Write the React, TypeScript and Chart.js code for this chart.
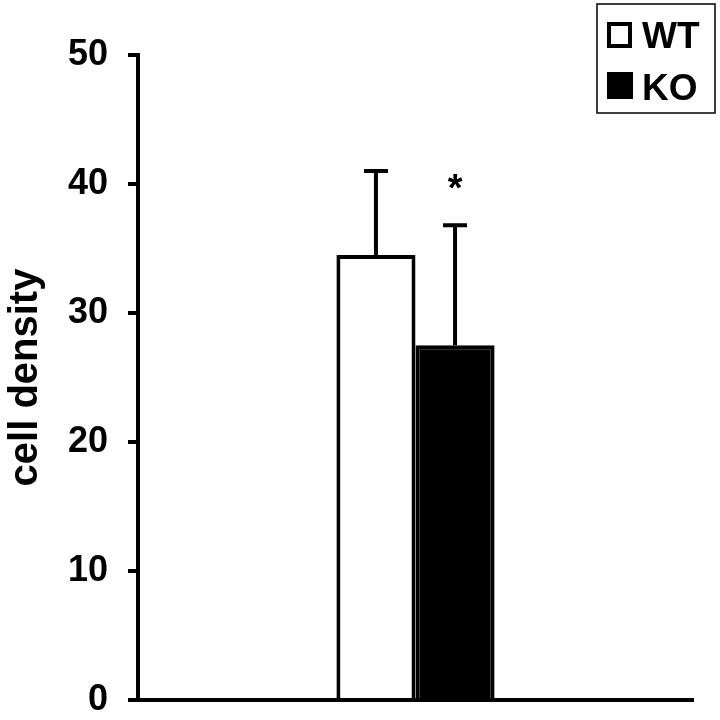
import React, { useEffect, useRef } from "react";
import { Chart, registerables } from "chart.js";

Chart.register(...registerables);

const categories = [""];
const seriesNames = ["WT", "KO"];
const meanValues = [34.5, 27.5];
const errorValues = [6.5, 9.3];
const significance = ["", "*"];
const yTicks = [0, 10, 20, 30, 40, 50];
const yTitle = "cell density";

const FONT = "'Liberation Sans', Arial, Helvetica, sans-serif";

const errorBarPlugin = {
  id: "errorBars",
  afterDatasetsDraw(chart: any) {
    const ctx = chart.ctx;
    const y = chart.scales.y;
    ctx.save();
    chart.data.datasets.forEach((ds: any, i: number) => {
      const meta = chart.getDatasetMeta(i);
      meta.data.forEach((el: any, j: number) => {
        const v = ds.data[j];
        const e = errorValues[i];
        const yTop = y.getPixelForValue(v + e);
        const yBase = y.getPixelForValue(v);
        ctx.strokeStyle = "#000";
        ctx.lineWidth = 4;
        ctx.beginPath();
        ctx.moveTo(el.x, yBase);
        ctx.lineTo(el.x, yTop);
        ctx.moveTo(el.x - 12, yTop);
        ctx.lineTo(el.x + 12, yTop);
        ctx.stroke();
        if (significance[i]) {
          ctx.fillStyle = "#000";
          ctx.font = `bold 38px ${FONT}`;
          ctx.textAlign = "center";
          ctx.textBaseline = "alphabetic";
          ctx.fillText(significance[i], el.x, yTop - 24);
        }
      });
    });
    ctx.restore();
  },
};

const legendPlugin = {
  id: "boxLegend",
  afterDraw(chart: any) {
    const ctx = chart.ctx;
    ctx.save();
    ctx.strokeStyle = "#000";
    ctx.lineWidth = 1.5;
    ctx.strokeRect(597, 4, 118, 109);
    ctx.font = `bold 37px ${FONT}`;
    ctx.textAlign = "left";
    ctx.textBaseline = "alphabetic";
    ctx.fillStyle = "#000";
    ctx.lineWidth = 4;
    ctx.strokeRect(609, 24, 21, 22);
    ctx.fillText(seriesNames[0], 642, 48);
    ctx.fillRect(607, 72, 26, 27);
    ctx.fillText(seriesNames[1], 642, 100);
    ctx.restore();
  },
};

export default function App() {
  const ref = useRef<HTMLCanvasElement>(null);
  useEffect(() => {
    if (!ref.current) return;
    const chart = new Chart(ref.current, {
      type: "bar",
      data: {
        labels: categories,
        datasets: [
          {
            label: seriesNames[0],
            data: [meanValues[0]],
            backgroundColor: "#ffffff",
            borderColor: "#000000",
            borderWidth: 4,
          },
          {
            label: seriesNames[1],
            data: [meanValues[1]],
            backgroundColor: "#000000",
            borderColor: "#000000",
            borderWidth: 4,
          },
        ],
      },
      plugins: [errorBarPlugin, legendPlugin],
      options: {
        responsive: false,
        animation: false,
        layout: { padding: { left: 0, top: 55, right: 27, bottom: 0 } },
        plugins: {
          legend: { display: false },
          tooltip: { enabled: false },
        },
        datasets: {
          bar: { categoryPercentage: 0.285, barPercentage: 1.0 },
        },
        scales: {
          x: {
            grid: { display: false },
            ticks: { display: false },
            border: { color: "#000", width: 4 },
            afterFit(scale: any) {
              scale.height = 20;
              scale.paddingLeft = 0;
              scale.paddingRight = 0;
            },
          },
          y: {
            min: 0,
            max: 50,
            afterBuildTicks(scale: any) {
              scale.ticks = yTicks.map((v) => ({ value: v }));
            },
            grid: {
              drawOnChartArea: false,
              drawTicks: true,
              tickLength: 10,
              color: "#000",
              lineWidth: 4,
            },
            border: { color: "#000", width: 4 },
            ticks: {
              color: "#000",
              padding: 20,
              font: { family: FONT, size: 36, weight: "bold" },
            },
            title: {
              display: true,
              text: yTitle,
              color: "#000",
              padding: { top: 2, bottom: 0 },
              font: { family: FONT, size: 40, weight: "bold" },
            },
            afterFit(scale: any) {
              scale.width = 138;
              scale.paddingTop = 0;
              scale.paddingBottom = 0;
            },
          },
        },
      },
    });
    return () => chart.destroy();
  }, []);
  return (
    <div style={{ position: "fixed", left: 0, top: 0, width: 720, height: 720, background: "#fff" }}>
      <canvas ref={ref} width={720} height={720} style={{ width: 720, height: 720 }} />
    </div>
  );
}
